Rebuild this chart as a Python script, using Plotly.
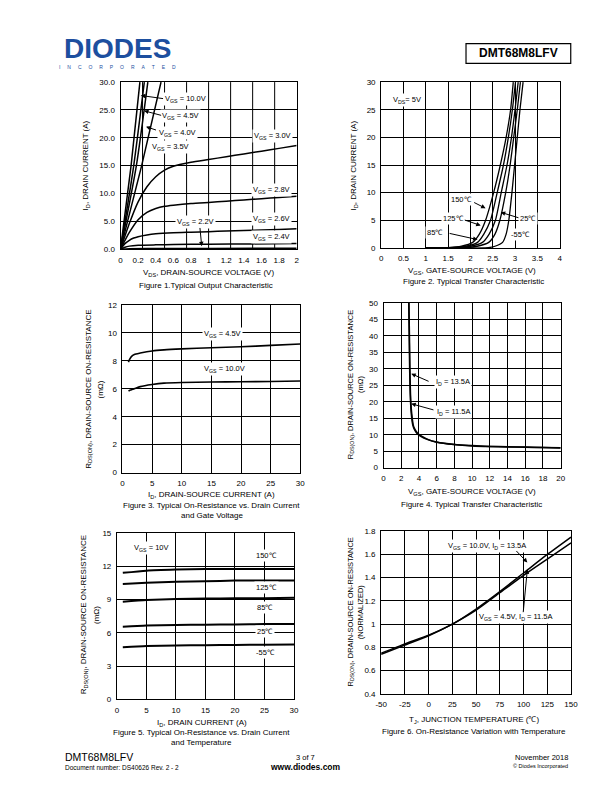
import plotly.graph_objects as go

FONT = "Liberation Sans, Arial, sans-serif"
W, H = 612, 792

# ---------------- Figure 1: Typical Output Characteristic ----------------
f1_steep_y = [0, 15, 30]
f1_vgs100_x = [0, 0.12, 0.22]
f1_vgs45_x = [0, 0.15, 0.27]
f1_vgs40_x = [0, 0.18, 0.31]
f1_vgs35_x = [0, 0.24, 0.46]
f1_vds = [0, 0.1, 0.2, 0.3, 0.4, 0.5, 0.6, 0.8, 1.0, 1.2, 1.4, 1.6, 1.8, 2.0]
f1_vgs30_y = [0, 4.6, 8.5, 11.2, 13.0, 14.2, 14.9, 15.6, 16.1, 16.6, 17.1, 17.6, 18.1, 18.6]
f1_vgs28_y = [0, 3.0, 5.3, 6.6, 7.3, 7.7, 7.9, 8.2, 8.4, 8.6, 8.85, 9.05, 9.3, 9.5]
f1_vgs26_x = [0, 0.05, 0.1, 0.15, 0.2, 0.3, 0.4, 0.6, 0.8, 1.0, 1.2, 1.4, 1.6, 1.8, 2.0]
f1_vgs26_y = [0, 1.0, 1.6, 2.0, 2.25, 2.55, 2.75, 2.95, 3.05, 3.15, 3.25, 3.35, 3.45, 3.55, 3.67]
f1_vgs24_x = [0, 0.05, 0.1, 0.2, 0.4, 0.6, 1.0, 1.5, 2.0]
f1_vgs24_y = [0, 0.35, 0.55, 0.7, 0.78, 0.83, 0.9, 0.95, 1.0]
f1_vgs22_x = [0, 0.1, 0.5, 1.0, 2.0]
f1_vgs22_y = [0, 0.08, 0.12, 0.14, 0.17]
f1_xgrid_vals = [0.25, 0.5, 0.75, 1.0, 1.25, 1.5, 1.75]

# ---------------- Figure 2: Typical Transfer Characteristic ----------------
f2_id = [0, 0.05, 0.3, 1, 2.5, 5, 10, 15, 20, 25, 30]
f2_t150_vgs = [1.0, 1.5, 1.8, 2.05, 2.2, 2.34, 2.52, 2.67, 2.8, 2.9, 2.96]
f2_t125_vgs = [1.0, 1.6, 1.9, 2.16, 2.3, 2.45, 2.6, 2.74, 2.85, 2.94, 3.01]
f2_t85_vgs = [1.0, 1.7, 2.0, 2.27, 2.42, 2.56, 2.69, 2.82, 2.92, 3.0, 3.07]
f2_t25_vgs = [1.0, 1.9, 2.15, 2.41, 2.55, 2.66, 2.79, 2.89, 2.97, 3.05, 3.12]
f2_tm55_vgs = [1.0, 2.4, 2.55, 2.72, 2.8, 2.86, 2.93, 2.99, 3.05, 3.11, 3.18]

# ---------------- Figure 3: On-Resistance vs Drain Current and Gate Voltage ----------------
f3_id = [1, 1.2, 1.5, 2, 3, 5, 7, 10, 15, 20, 25, 30]
f3_vgs45 = [7.9, 8.1, 8.3, 8.45, 8.55, 8.7, 8.78, 8.85, 8.93, 9.0, 9.1, 9.2]
f3_vgs100 = [5.85, 5.88, 5.93, 6.0, 6.15, 6.3, 6.4, 6.45, 6.48, 6.5, 6.52, 6.55]

# ---------------- Figure 4: Rds(on) vs Vgs ----------------
f4_vgs_135 = [2.85, 2.9, 2.95, 3.0, 3.05, 3.15, 3.3, 3.5, 3.8, 4.2, 5, 6, 8, 10, 12, 14, 16, 18, 20]
f4_rds_135 = [50, 40, 30, 24, 20, 16, 13, 11.5, 10.3, 9.5, 8.5, 7.7, 7.0, 6.6, 6.4, 6.3, 6.2, 6.1, 6.0]
f4_vgs_115 = [2.87, 2.93, 2.98, 3.03, 3.08, 3.2, 3.35, 3.55, 3.9, 4.3, 5, 6, 8, 10, 12, 14, 16, 18, 20]
f4_rds_115 = [50, 40, 30, 24, 20, 16, 13, 11.6, 10.3, 9.6, 8.6, 7.8, 7.05, 6.7, 6.45, 6.35, 6.25, 6.15, 6.05]

# ---------------- Figure 5: Rds(on) vs Id and Temperature ----------------
f5_id = [1, 5, 10, 15, 20, 25, 30]
f5_t150 = [11.4, 11.6, 11.7, 11.75, 11.75, 11.75, 11.75]
f5_t125 = [10.4, 10.5, 10.6, 10.65, 10.7, 10.7, 10.7]
f5_t85 = [8.8, 8.95, 9.05, 9.08, 9.1, 9.12, 9.15]
f5_t25 = [6.55, 6.65, 6.7, 6.72, 6.75, 6.78, 6.8]
f5_tm55 = [4.7, 4.8, 4.85, 4.88, 4.9, 4.92, 4.95]

# ---------------- Figure 6: Normalized Rds(on) vs Temperature ----------------
f6_tj = [-50, -25, 0, 25, 50, 75, 100, 125, 150]
f6_vgs100 = [0.75, 0.83, 0.905, 1.0, 1.13, 1.28, 1.44, 1.6, 1.75]
f6_vgs45 = [0.74, 0.82, 0.9, 1.0, 1.12, 1.27, 1.42, 1.56, 1.70]
f6_tick_vals = [-50, -25, 0, 25, 50, 75, 100, 125, 150]
f6_tick_text = ["-50", "-25", "0", "25", "50", "75", "100", "125", "150"]

fig = go.Figure()


def line(x, y, xa, ya, width=1.5):
    fig.add_trace(go.Scatter(x=x, y=y, mode="lines", xaxis=xa, yaxis=ya,
                             line=dict(color="black", width=width, shape="spline", smoothing=0.6),
                             showlegend=False, hoverinfo="skip"))


# Figure 1
for xs in [f1_vgs100_x, f1_vgs45_x, f1_vgs40_x, f1_vgs35_x]:
    line(xs, f1_steep_y, "x", "y")
line(f1_vds, f1_vgs30_y, "x", "y")
line(f1_vds, f1_vgs28_y, "x", "y")
line(f1_vgs26_x, f1_vgs26_y, "x", "y")
line(f1_vgs24_x, f1_vgs24_y, "x", "y")
line(f1_vgs22_x, f1_vgs22_y, "x", "y")
# Figure 2
for xs in [f2_t150_vgs, f2_t125_vgs, f2_t85_vgs, f2_t25_vgs, f2_tm55_vgs]:
    line(xs, f2_id, "x2", "y2", 1.3)
# Figure 3
line(f3_id, f3_vgs45, "x3", "y3", 1.6)
line(f3_id, f3_vgs100, "x3", "y3", 1.6)
# Figure 4
line(f4_vgs_135, f4_rds_135, "x4", "y4", 1.5)
line(f4_vgs_115, f4_rds_115, "x4", "y4", 1.5)
# Figure 5
for ys in [f5_t150, f5_t125, f5_t85, f5_t25, f5_tm55]:
    line(f5_id, ys, "x5", "y5", 2)
# Figure 6
line(f6_tj, f6_vgs100, "x6", "y6", 1.5)
line(f6_tj, f6_vgs45, "x6", "y6", 1.5)


def px2paper_x(px):
    return px / W


def px2paper_y(py):
    return 1 - py / H


def axis(x0, x1, rng, dtick, anchor, horizontal, **kw):
    if horizontal:
        dom = [px2paper_x(x0), px2paper_x(x1)]
    else:
        dom = [px2paper_y(x1), px2paper_y(x0)]
    d = dict(domain=dom, range=rng, dtick=dtick, tick0=rng[0], anchor=anchor,
             showgrid=True, gridcolor="black", gridwidth=1,
             showline=True, linecolor="black", linewidth=1, mirror=True,
             zeroline=False, ticks="", ticklabelstandoff=3,
             tickfont=dict(family=FONT, size=8, color="black"), fixedrange=True)
    d.update(kw)
    return d


layout = dict(
    width=W, height=H, margin=dict(l=0, r=0, t=0, b=0),
    paper_bgcolor="white", plot_bgcolor="white",
    font=dict(family=FONT, color="black"),
    # Figure 1: labels every 0.2, vertical grid every 0.25 (drawn as shapes below)
    xaxis=axis(117, 297, [0, 2], 0.2, "y", True, showgrid=False),
    yaxis=axis(79, 248, [0, 30], 5, "x", False, tickformat=".1f"),
    xaxis2=axis(383.3, 565.7, [0, 4], 0.5, "y2", True),
    yaxis2=axis(79, 246.7, [0, 30], 5, "x2", False),
    xaxis3=axis(119, 300.7, [0, 30], 5, "y3", True),
    yaxis3=axis(304.3, 474, [0, 12], 2, "x3", False),
    xaxis4=axis(385.7, 566.7, [0, 20], 2, "y4", True),
    yaxis4=axis(302.3, 469, [0, 50], 5, "x4", False),
    xaxis5=axis(113.3, 294.3, [0, 30], 5, "y5", True),
    yaxis5=axis(535, 703.3, [0, 15], 3, "x5", False),
    xaxis6=axis(383.3, 577.3, [-50, 150], 25, "y6", True,
                tickmode="array", tickvals=f6_tick_vals, ticktext=f6_tick_text),
    yaxis6=axis(533.3, 697.7, [0.4, 1.8], 0.2, "x6", False),
)
fig.update_layout(**layout)

# Figure 1 vertical grid lines (every 0.25 V)
for v in f1_xgrid_vals:
    fig.add_shape(type="line", xref="x", yref="y domain", x0=v, x1=v, y0=0, y1=1,
                  line=dict(color="black", width=1), layer="below")

ann = []


def label(ax, x, y, text, bg=True, size=7.5):
    ann.append(dict(xref="x" + ax, yref="y" + ax, x=x, y=y, text=text, showarrow=False,
                    font=dict(family=FONT, size=size, color="black"),
                    bgcolor="white" if bg else "rgba(0,0,0,0)", borderpad=1,
                    xanchor="center", yanchor="middle"))


def arrow(ax, tx, ty, hx, hy):
    ann.append(dict(xref="x" + ax, yref="y" + ax, axref="x" + ax, ayref="y" + ax,
                    x=hx, y=hy, ax=tx, ay=ty, text="", showarrow=True,
                    arrowhead=2, arrowsize=0.9, arrowwidth=1, arrowcolor="black"))


def ptext(px, py, text, size=8, xanchor="center", angle=0, family=FONT, color="black"):
    ann.append(dict(xref="paper", yref="paper", x=px2paper_x(px), y=px2paper_y(py), text=text,
                    showarrow=False, font=dict(family=family, size=size, color=color),
                    xanchor=xanchor, yanchor="middle", textangle=angle))


# Figure 1 labels
label("", 0.74, 27.0, "V<sub>GS</sub> = 10.0V")
arrow("", 0.5, 27.0, 0.23, 27.6)
label("", 0.683, 23.96, "V<sub>GS</sub> = 4.5V")
arrow("", 0.478, 23.96, 0.267, 24.85)
label("", 0.644, 20.9, "V<sub>GS</sub> = 4.0V")
arrow("", 0.42, 21.3, 0.289, 22.0)
label("", 0.572, 18.3, "V<sub>GS</sub> = 3.5V")
label("", 1.728, 20.4, "V<sub>GS</sub> = 3.0V")
label("", 1.717, 10.65, "V<sub>GS</sub> = 2.8V")
label("", 0.85, 4.97, "V<sub>GS</sub> = 2.2V")
arrow("", 0.9, 4.08, 0.922, 0.53)
label("", 1.717, 5.5, "V<sub>GS</sub> = 2.6V")
label("", 1.717, 2.13, "V<sub>GS</sub> = 2.4V")

# Figure 2 labels
label("2", 0.585, 26.8, "V<sub>DS</sub>= 5V")
label("2", 1.81, 8.71, "150℃")
arrow("2", 2.05, 8.35, 2.34, 7.16)
label("2", 1.62, 5.37, "125℃")
arrow("2", 1.84, 5.13, 2.23, 4.06)
label("2", 1.21, 2.81, "85℃")
arrow("2", 1.5, 2.68, 2.16, 1.5)
label("2", 3.29, 5.37, "25℃")
arrow("2", 3.11, 5.37, 2.68, 6.44)
label("2", 3.13, 2.45, "-55℃")

# Figure 3 labels
label("3", 16.9, 9.95, "V<sub>GS</sub> = 4.5V")
label("3", 17.25, 7.42, "V<sub>GS</sub> = 10.0V")

# Figure 4 labels
label("4", 7.82, 26.1, "I<sub>D</sub> = 13.5A")
arrow("4", 5.26, 26.0, 3.13, 28.5)
label("4", 7.93, 17.0, "I<sub>D</sub> = 11.5A")
arrow("4", 5.81, 17.4, 3.13, 19.4)

# Figure 5 labels
label("5", 5.83, 13.66, "V<sub>GS</sub> = 10V")
label("5", 25.3, 12.92, "150℃")
label("5", 25.3, 10.04, "125℃")
label("5", 25.15, 8.32, "85℃")
label("5", 25.15, 6.09, "25℃")
label("5", 25.15, 4.22, "-55℃")

# Figure 6 labels
label("6", 61.5, 1.672, "V<sub>GS</sub> = 10.0V, I<sub>D</sub> = 13.5A")
arrow("6", 90.9, 1.643, 104, 1.53)
label("6", 92, 1.062, "V<sub>GS</sub> = 4.5V, I<sub>D</sub> = 11.5A")
arrow("6", 99.5, 1.09, 104, 1.473)

# Axis titles & captions
ptext(82, 163, "I<sub>D</sub>, DRAIN CURRENT (A)", angle=-90)
ptext(207, 272, "V<sub>DS</sub>, DRAIN-SOURCE VOLTAGE (V)")
ptext(204, 285, "Figure 1.Typical Output Characteristic")

ptext(356, 163, "I<sub>D</sub>, DRAIN CURRENT (A)", angle=-90)
ptext(476, 270, "V<sub>GS</sub>, GATE-SOURCE VOLTAGE (V)")
ptext(478, 281, "Figure 2. Typical Transfer Characteristic")

ptext(84, 390, "R<sub>DS(ON)</sub>, DRAIN-SOURCE ON-RESISTANCE", angle=-90)
ptext(97, 390, "(mΩ)", angle=-90)
ptext(210, 497, "I<sub>D</sub>, DRAIN-SOURCE CURRENT (A)")
ptext(210, 507, "Figure 3. Typical On-Resistance vs. Drain Current")
ptext(210, 517, "and Gate Voltage")

ptext(352, 385, "R<sub>DS(ON)</sub>, DRAIN-SOURCE ON-RESISTANCE", angle=-90, size=7.5)
ptext(362, 385, "(mΩ)", angle=-90, size=7.5)
ptext(476, 494, "V<sub>GS</sub>, GATE-SOURCE VOLTAGE (V)")
ptext(476, 506, "Figure 4. Typical Transfer Characteristic")

ptext(80, 618, "R<sub>DS(ON)</sub>, DRAIN-SOURCE ON-RESISTANCE", angle=-90)
ptext(93, 618, "(mΩ)", angle=-90)
ptext(200, 727, "I<sub>D</sub>, DRAIN CURRENT (A)")
ptext(200, 737, "Figure 5. Typical On-Resistance vs. Drain Current")
ptext(200, 747, "and Temperature")

ptext(352, 615, "R<sub>DS(ON)</sub>, DRAIN-SOURCE ON-RESISTANCE", angle=-90, size=7.5)
ptext(362, 615, "(NORMALIZED)", angle=-90, size=7.5)
ptext(478, 724, "T<sub>J</sub>, JUNCTION TEMPERATURE (℃)")
ptext(478, 736, "Figure 6. On-Resistance Variation with Temperature")

# Header
ptext(114, 45, "<b>DIODES</b>", size=28, color="#1d4f9f")
ptext(114, 64, "\u00a0\u00a0\u00a0\u00a0\u00a0".join(list("INCORPORATED")), size=5, color="#1d4f9f")
ptext(523.5, 50, "<b>DMT68M8LFV</b>", size=12)

# Footer
ptext(58, 762, "DMT68M8LFV", size=10.5, xanchor="left")
ptext(58, 772, "Document number: DS40626 Rev. 2 - 2", size=6.5, xanchor="left")
ptext(306, 762, "3 of 7", size=7.5)
ptext(306, 772, "<b>www.diodes.com</b>", size=8.5)
ptext(576, 762, "November 2018", size=7.5, xanchor="right")
ptext(576, 771, "© Diodes Incorporated", size=5.5, xanchor="right")

fig.update_layout(annotations=ann)
fig.add_shape(type="rect", xref="paper", yref="paper",
              x0=px2paper_x(470), x1=px2paper_x(577), y0=px2paper_y(60), y1=px2paper_y(40),
              line=dict(color="black", width=1.2))

fig.write_html("out.html")
